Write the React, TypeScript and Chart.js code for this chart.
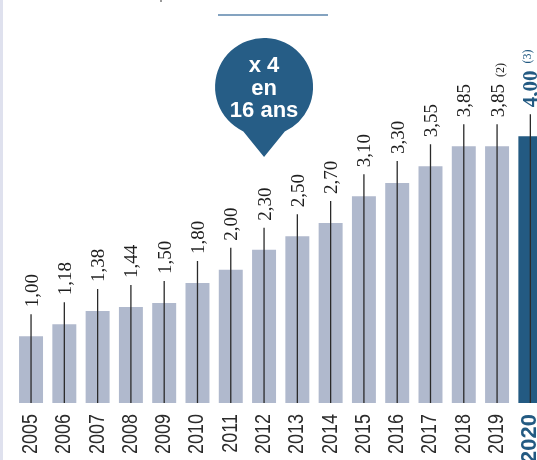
import React, { useEffect, useRef } from "react";
import { Chart, registerables } from "chart.js";

Chart.register(...registerables);

const years = ["2005", "2006", "2007", "2008", "2009", "2010", "2011", "2012", "2013", "2014", "2015", "2016", "2017", "2018", "2019", "2020"];
const values = [1.0, 1.18, 1.38, 1.44, 1.5, 1.8, 2.0, 2.3, 2.5, 2.7, 3.1, 3.3, 3.55, 3.85, 3.85, 4.0];
const valueLabels = ["1,00", "1,18", "1,38", "1,44", "1,50", "1,80", "2,00", "2,30", "2,50", "2,70", "3,10", "3,30", "3,55", "3,85", "3,85", "4,00"];
const footnotes = ["", "", "", "", "", "", "", "", "", "", "", "", "", "", "(2)", "(3)"];
const highlightYear = "2020";
const bubbleLines = ["x 4", "en", "16 ans"];
const bubbleCategory = "2012";
const bubbleValue = 4.74;

const GREY = "#b0b9cd";
const BLUE = "#235a82";
const BUBBLE = "#265d86";

const overlayPlugin = {
  id: "overlay",
  beforeDraw(chart: any) {
    const ctx = chart.ctx;
    ctx.save();
    ctx.fillStyle = "#ffffff";
    ctx.fillRect(0, 0, chart.width, chart.height);
    ctx.fillStyle = "#dfe1ee";
    ctx.fillRect(0, 0, 3, chart.height);
    ctx.strokeStyle = "#5b84ab";
    ctx.lineWidth = 1.5;
    ctx.beginPath();
    ctx.moveTo(218, 15);
    ctx.lineTo(328, 15);
    ctx.stroke();
    ctx.fillStyle = "#9a9a9a";
    ctx.fillRect(160, 0, 2, 2);
    ctx.restore();
  },
  afterDatasetsDraw(chart: any) {
    const ctx = chart.ctx;
    const meta = chart.getDatasetMeta(0);
    const yScale = chart.scales.y;
    const xScale = chart.scales.x;
    const base = yScale.getPixelForValue(0);

    // measure condense factor for years
    ctx.save();
    ctx.font = "22px 'Liberation Sans'";
    const sx = 40 / ctx.measureText("2005").width;
    ctx.restore();

    meta.data.forEach((bar: any, i: number) => {
      const x = bar.x;
      const top = bar.y;
      const lineTop = top - 22;
      const hl = years[i] === highlightYear;
      // pin line
      ctx.save();
      ctx.strokeStyle = "#2a2a2a";
      ctx.lineWidth = 1.3;
      ctx.beginPath();
      ctx.moveTo(x, base);
      ctx.lineTo(x, lineTop);
      ctx.stroke();
      ctx.restore();

      // value label
      ctx.save();
      ctx.translate(x + 6.5, lineTop - 7);
      ctx.rotate(-Math.PI / 2);
      ctx.textAlign = "left";
      ctx.textBaseline = "alphabetic";
      ctx.font = hl ? "bold 21px 'Liberation Serif'" : "19px 'Liberation Serif'";
      ctx.fillStyle = hl ? BLUE : "#1f1f1f";
      ctx.fillText(valueLabels[i], 0, 0);
      const w = ctx.measureText(valueLabels[i]).width;
      if (footnotes[i]) {
        ctx.font = "12px 'Liberation Serif'";
        ctx.fillText(footnotes[i], w + 7, hl ? -6 : 0);
      }
      ctx.restore();

      // year label
      ctx.save();
      ctx.translate(x + 6, 414);
      ctx.rotate(-Math.PI / 2);
      if (!hl) ctx.scale(sx, 1);
      ctx.textAlign = "right";
      ctx.textBaseline = "alphabetic";
      ctx.font = hl ? "bold 22px 'Liberation Sans'" : "22px 'Liberation Sans'";
      ctx.fillStyle = hl ? BLUE : "#2b2b2b";
      ctx.fillText(years[i], 0, 0);
      ctx.restore();
    });

    // bubble
    const cx = xScale.getPixelForValue(years.indexOf(bubbleCategory));
    const cy = yScale.getPixelForValue(bubbleValue);
    const r = 49;
    const a = (25 * Math.PI) / 180;
    ctx.save();
    ctx.fillStyle = BUBBLE;
    ctx.beginPath();
    ctx.arc(cx, cy, r, Math.PI / 2 + a, Math.PI / 2 - a, false);
    ctx.lineTo(cx, cy + 70);
    ctx.closePath();
    ctx.fill();
    ctx.fillStyle = "#ffffff";
    ctx.font = "bold 22px 'Liberation Sans'";
    ctx.textAlign = "center";
    ctx.textBaseline = "alphabetic";
    const offs = [-15, 8, 30];
    bubbleLines.forEach((t, k) => ctx.fillText(t, cx, cy + offs[k]));
    ctx.restore();
  },
};

export default function App() {
  const ref = useRef<HTMLCanvasElement>(null);
  useEffect(() => {
    if (!ref.current) return;
    const chart = new Chart(ref.current, {
      type: "bar",
      data: {
        labels: years,
        datasets: [
          {
            data: values,
            backgroundColor: years.map((y) => (y === highlightYear ? BLUE : GREY)),
            barPercentage: 0.72,
            categoryPercentage: 1,
            borderWidth: 0,
          },
        ],
      },
      options: {
        responsive: false,
        animation: false,
        layout: { padding: { left: 14.4, right: 13, top: 3, bottom: 57 } },
        plugins: { legend: { display: false }, tooltip: { enabled: false } },
        scales: {
          x: { display: false, offset: true, grid: { display: false } },
          y: { display: false, min: 0, max: 6 },
        },
      },
      plugins: [overlayPlugin],
    });
    return () => chart.destroy();
  }, []);
  return (
    <div style={{ position: "fixed", left: 0, top: 0, width: 537, height: 460, overflow: "hidden", background: "#fff" }}>
      <canvas ref={ref} width={560} height={460} style={{ display: "block" }} />
    </div>
  );
}
